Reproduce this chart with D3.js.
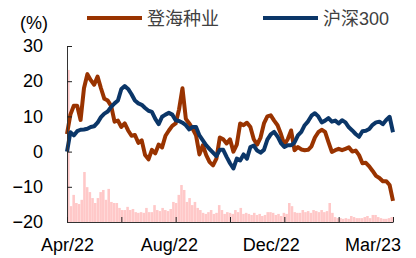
<!DOCTYPE html>
<html>
<head>
<meta charset="utf-8">
<script src="https://cdn.jsdelivr.net/npm/d3@7"></script>
<style>
  body { margin: 0; background: #fff; }
  svg { display: block; font-family: "Liberation Sans", Arial, "Noto Sans CJK SC", sans-serif; }
</style>
</head>
<body>
<div id="chart"></div>
<script>
// cumulative return (%), sampled every ~3 trading days
const dengHai = [5, 10.5, 13, 13, 9, 18, 22, 20.3, 19, 21.3,
  18, 15, 14.5, 13, 8.5, 8.8, 7, 8, 6, 4.5,
  4.7, 2.5, 3.2, -1, -2.2, 0.5, -0.5, 2, 1.2, 4.5,
  6, 7.3, 8, 12, 18, 9.3, 8, 6.5, 4.6, -0.8,
  1.8, -1, -3, -3.9, -2, 4, 3.5, 2.3, 3.5, 0,
  2, 8, 7.5, 8.2, 7, 3.5, 2, 4, 8, 10,
  10.3, 8.8, 7.5, 5, 2, 3.5, 6, 0.4, 1.3, 0.6,
  0.4, 0.5, 1.5, 4, 5.5, 6.2, 5.6, 2.7, -0.1, 0.4,
  0.8, 0.4, 0.8, 1.2, 0, 0.3, -1, -3.3, -3.2, -4.2,
  -5.5, -6.9, -7.5, -8.4, -8.4, -9.5, -14];

const hs300 = [0, 5.5, 4.6, 5.8, 6.2, 6.3, 6.5, 7, 7.2, 8.2,
  9.8, 10.8, 11.4, 12.7, 13.7, 14.5, 17.8, 18.6, 17.8, 16.3,
  14.5, 13.7, 13.3, 12.4, 11.6, 11.3, 9.3, 7.8, 9.9, 10.5,
  11, 10.5, 8.9, 8.7, 8.2, 7.5, 6.3, 7, 7, 4.6,
  3.2, 1.8, 0.7, -0.3, -1.3, 0.5, 0.5, -1.5, -3.3, -4.8,
  -2, -2.5, -0.8, -2, 1.3, 1.7, 0.3, -0.3, 0.5, 3.4,
  4.9, 5.6, 4.3, 2.4, 1.3, 1.8, 1.8, 2.6, 4.6, 5.6,
  7.5, 8.6, 10.2, 10.9, 10, 8.3, 8.8, 9.5, 8.5, 8.8,
  8, 8.9, 8.3, 6.9, 6, 5, 4.2, 5.8, 5.9, 6.4,
  7.6, 8.3, 8.5, 7.8, 9, 9.9, 5.5];

// turnover bars, drawn up from the bottom of the plot
const volume = [43.2, 4.5, 7.7, 5.4, 5.1, 6.3, 14.2, 9.9, 8.5, 6.8,
  5.4, 6.8, 8.5, 9.1, 6.3, 9.4, 5.7, 5.4, 5.4, 4.0,
  3.4, 3.4, 4.3, 3.4, 3.7, 2.8, 2.6, 2.8, 2.6, 4.0,
  2.8, 2.8, 4.8, 3.4, 3.1, 4.0, 3.4, 3.1, 3.7, 5.7,
  5.4, 7.7, 10.5, 9.1, 5.7, 6.8, 4.8, 5.7, 4.0, 3.4,
  2.6, 2.3, 2.8, 3.4, 2.3, 2.6, 4.8, 3.4, 2.3, 2.8,
  2.6, 2.3, 3.4, 2.8, 4.0, 2.3, 2.6, 2.3, 2.0, 2.6,
  2.0, 2.3, 1.7, 2.0, 2.8, 2.8, 2.6, 2.0, 2.3, 1.7,
  2.6, 2.3, 5.4, 4.5, 2.8, 2.6, 2.6, 3.4, 2.8, 3.1,
  2.6, 3.4, 3.1, 2.8, 3.4, 2.8, 3.1, 5.4, 2.6, 1.4,
  1.1, 1.1, 0.9, 1.1, 0.9, 1.7, 1.4, 1.1, 1.1, 1.1,
  1.4, 1.7, 1.1, 2.0, 2.0, 1.4, 1.1, 0.9, 0.9, 1.1, 1.4];

const yTicks = [-20, -10, 0, 10, 20, 30];
const xTickLabels = ["Apr/22", "Aug/22", "Dec/22", "Mar/23"];
const labelEvery = 30;
const tickEvery = 16;
const seriesNames = ["登海种业", "沪深300"];
const colors = ["#993300", "#0b3668"];

const W = 416, H = 258;
const margin = {top: 46, right: 23, bottom: 36, left: 67};
const width = W - margin.left - margin.right;
const height = H - margin.top - margin.bottom;

const svg = d3.select("#chart").append("svg")
  .attr("width", W).attr("height", H);
const g = svg.append("g")
  .attr("transform", "translate(" + margin.left + "," + margin.top + ")");

const x = d3.scaleLinear().domain([0, dengHai.length - 1]).range([0, width]);
const y = d3.scaleLinear().domain([-20, 30]).range([height, 0]);
const xb = d3.scaleBand().domain(d3.range(volume.length)).range([0, width]).paddingInner(0.05);
const yv = d3.scaleLinear().domain([0, 50]).range([height, 0]);

// bars
g.append("g").selectAll("rect")
  .data(volume)
  .join("rect")
  .attr("x", (d, i) => xb(i))
  .attr("width", xb.bandwidth())
  .attr("y", d => yv(d))
  .attr("height", d => height - yv(d))
  .attr("fill", "#ffc8c8");

// lines
const line = d3.line()
  .x((d, i) => x(i))
  .y(d => y(d));

[dengHai, hs300].forEach((s, i) => {
  g.append("path")
    .datum(s)
    .attr("fill", "none")
    .attr("stroke", colors[i])
    .attr("stroke-width", 4)
    .attr("stroke-linejoin", "round")
    .attr("d", line);
});

// axes
g.append("g")
  .call(d3.axisLeft(y).tickValues(yTicks).tickSizeInner(-5).tickSizeOuter(0).tickPadding(24));

g.append("g")
  .attr("transform", "translate(0," + height + ")")
  .call(d3.axisBottom(x).tickValues(d3.range(0, dengHai.length, tickEvery))
    .tickSizeInner(-5).tickSizeOuter(0).tickFormat(""));

const xLabels = g.append("g")
  .attr("transform", "translate(0," + height + ")")
  .call(d3.axisBottom(x).tickValues(xTickLabels.map((d, i) => i * labelEvery))
    .tickSize(0).tickPadding(16).tickFormat((d, i) => xTickLabels[i]));
xLabels.select(".domain").remove();

svg.selectAll(".domain").attr("stroke", "#333");
svg.selectAll(".tick line").attr("stroke", "#222");
svg.selectAll(".tick text").attr("font-size", 18).attr("fill", "#000")
  .attr("font-family", "'Liberation Sans', Arial, sans-serif");

// unit label
svg.append("text")
  .attr("x", 20).attr("y", 23)
  .attr("dominant-baseline", "central")
  .attr("font-size", 18)
  .text("(%)");

// legend
const legendX = [87, 263];
seriesNames.forEach((name, i) => {
  const lg = svg.append("g").attr("transform", "translate(" + legendX[i] + ",18)");
  lg.append("line")
    .attr("x1", 0).attr("x2", 55)
    .attr("stroke", colors[i]).attr("stroke-width", 4);
  lg.append("text")
    .attr("x", 60).attr("y", 1)
    .attr("dominant-baseline", "central")
    .attr("font-size", 18)
    .attr("fill", "#404040")
    .text(name);
});
</script>
</body>
</html>
